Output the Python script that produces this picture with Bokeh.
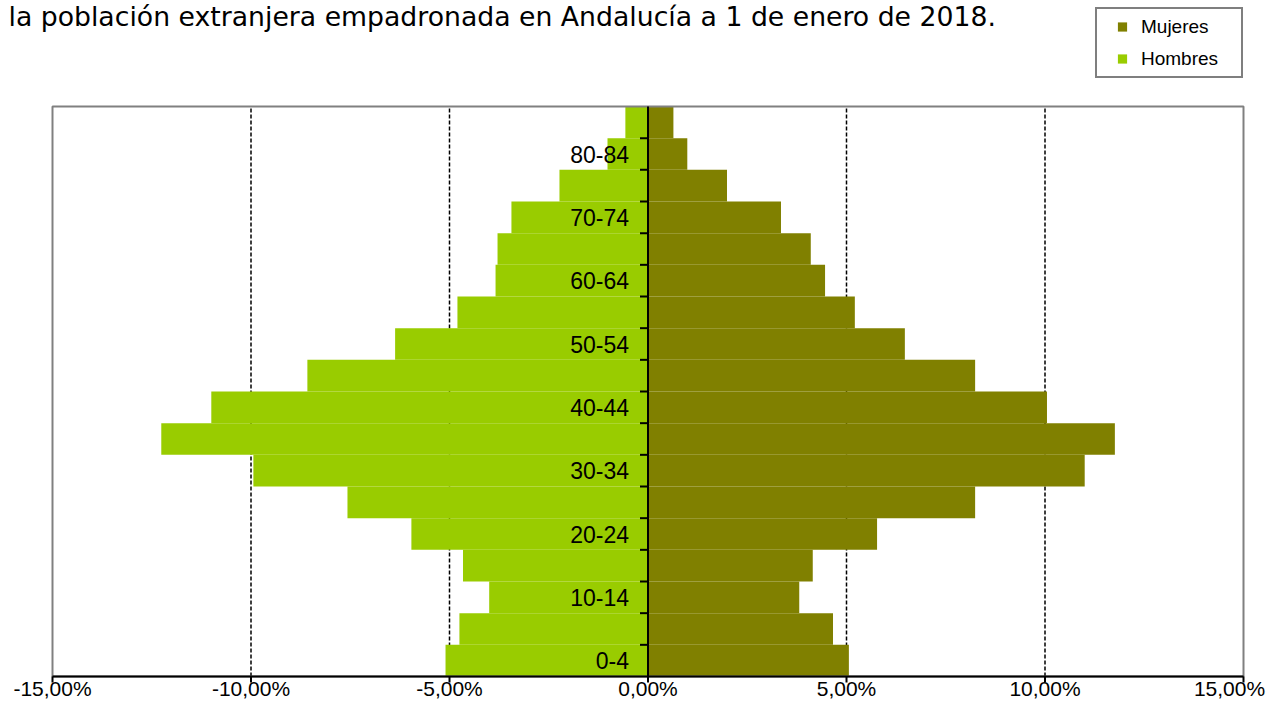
import numpy as np
from bokeh.plotting import figure
from bokeh.models import Range1d, Legend, LegendItem, Label, ColumnDataSource
from bokeh.core.properties import value
from bokeh.embed import file_html
from bokeh.resources import INLINE

# ---- data (percent of total foreign population) ----
age_groups = ["0-4", "5-9", "10-14", "15-19", "20-24", "25-29", "30-34", "35-39",
              "40-44", "45-49", "50-54", "55-59", "60-64", "65-69", "70-74",
              "75-79", "80-84", "85+"]
hombres = [5.10, 4.75, 4.00, 4.66, 5.96, 7.57, 9.94, 12.26, 11.00, 8.58, 6.37,
           4.80, 3.84, 3.79, 3.44, 2.23, 1.02, 0.57]
mujeres = [5.06, 4.66, 3.81, 4.15, 5.77, 8.24, 11.00, 11.76, 10.05, 8.24, 6.47,
           5.21, 4.46, 4.10, 3.35, 1.99, 0.99, 0.64]
x_ticks = [-15, -10, -5, 0, 5, 10, 15]
x_tick_labels = ["-15,00%", "-10,00%", "-5,00%", "0,00%", "5,00%", "10,00%", "15,00%"]
grid_ticks = [-10, -5, 5, 10]
series_names = ["Mujeres", "Hombres"]
title_text = "la población extranjera empadronada en Andalucía a 1 de enero de 2018."

COL_H = "#99CC00"
COL_M = "#808000"

# ---- layout (canvas pixels) ----
W, H = 1271, 701
P_LEFT, P_RIGHT, P_TOP, P_BOTTOM = 52, 1243, 106, 676

n = len(age_groups)
x0, x1 = x_ticks[0], x_ticks[-1]
kx = (P_RIGHT - P_LEFT) / (x1 - x0)
ky = (P_BOTTOM - P_TOP) / n
x_range = Range1d(x0 - P_LEFT / kx, x1 + (W - P_RIGHT) / kx)
y_range = Range1d(-(H - P_BOTTOM) / ky, n + P_TOP / ky)

src = ColumnDataSource(dict(
    y=[i + 0.5 for i in range(n)],
    h_left=[-v for v in hombres],
    m_right=mujeres,
    zero=[0] * n,
    label=[g if i % 2 == 0 else "" for i, g in enumerate(age_groups)],
))

p = figure(width=W, height=H, x_range=x_range, y_range=y_range, title=None,
           output_backend="svg", toolbar_location=None,
           x_axis_location=None, y_axis_location=None,
           min_border_left=0, min_border_right=0, min_border_top=0, min_border_bottom=0)
p.background_fill_color = "white"
p.border_fill_color = "white"
p.outline_line_color = None
p.xgrid.visible = False
p.ygrid.visible = False

# dashed vertical grid lines
p.segment(x0=grid_ticks, y0=[0] * len(grid_ticks), x1=grid_ticks, y1=[n] * len(grid_ticks),
          line_color="black", line_width=1.5, line_dash="4 2")

# bars
p.hbar(y="y", height=1, left="h_left", right="zero", source=src,
       fill_color=COL_H, line_color=None)
p.hbar(y="y", height=1, left="zero", right="m_right", source=src,
       fill_color=COL_M, line_color=None)

# plot area border (gray)
p.quad(left=[x0], right=[x1], bottom=[0], top=[n], fill_color=None,
       line_color="#808080", line_width=2)

# x axis: line, ticks, labels
p.segment(x0=[x0], y0=[0], x1=[x1], y1=[0], line_color="black", line_width=2)
p.ray(x=x_ticks, y=[0] * len(x_ticks), length=6, length_units="screen",
      angle=-np.pi / 2, line_color="black", line_width=2)
x_off = [0] * len(x_ticks)
x_off[-1] = -14
xsrc = ColumnDataSource(dict(x=x_ticks, y=[0] * len(x_ticks), t=x_tick_labels, off=x_off))
p.text(x="x", y="y", text="t", x_offset="off", y_offset=12, source=xsrc,
       text_align="center", text_baseline="alphabetic",
       text_font=value("Liberation Sans"), text_font_size="21px", text_color="black")

# central y axis: line, ticks between groups, labels
p.segment(x0=[0], y0=[0], x1=[0], y1=[n], line_color="black", line_width=2)
bounds = list(range(1, n))
p.ray(x=[0] * len(bounds), y=bounds, length=8, length_units="screen", angle=np.pi,
      line_color="black", line_width=2)
p.text(x="zero", y="y", text="label", source=src, x_offset=-19,
       text_align="right", text_baseline="middle",
       text_font=value("Liberation Sans"), text_font_size="23px", text_color="black")

# legend (square markers; invisible points carry the legend styling)
l_m = p.scatter(x=[np.nan], y=[np.nan], marker="square", size=9,
                fill_color=COL_M, line_color=None)
l_h = p.scatter(x=[np.nan], y=[np.nan], marker="square", size=9,
                fill_color=COL_H, line_color=None)
legend = Legend(items=[LegendItem(label=series_names[0], renderers=[l_m]),
                       LegendItem(label=series_names[1], renderers=[l_h])],
                location=(1095, H - 78), orientation="vertical", padding=6, spacing=9,
                margin=0, glyph_width=38, glyph_height=23, label_standoff=0,
                label_width=94, label_height=20, label_text_font="Liberation Sans",
                label_text_font_size="19px", label_text_color="black",
                border_line_color="black", border_line_width=2,
                background_fill_color="white", background_fill_alpha=1.0)
p.add_layout(legend)

# title line (top-left)
p.add_layout(Label(x=8, y=H - 16, x_units="screen", y_units="screen", text=title_text,
                   text_font="DejaVu Sans", text_font_size="26.7px",
                   text_baseline="alphabetic", text_align="left", text_color="black"))

open("out.html", "w").write(file_html(p, INLINE))
